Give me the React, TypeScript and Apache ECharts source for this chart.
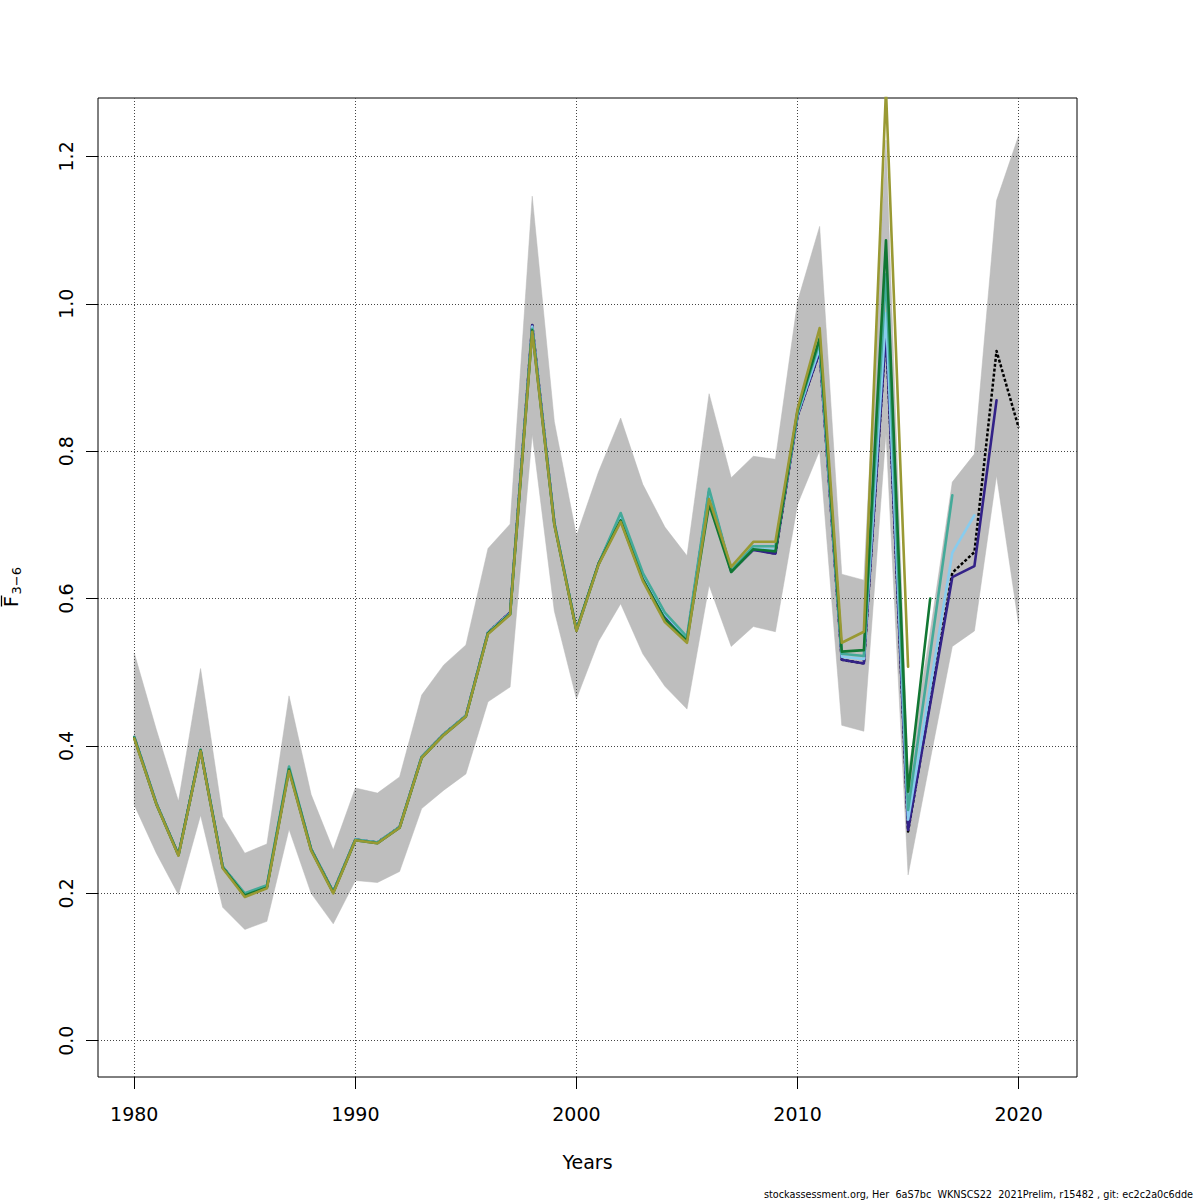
import React, { useEffect, useRef } from "react";
import * as echarts from "echarts";

const years = [
  1980, 1981, 1982, 1983, 1984, 1985, 1986, 1987, 1988, 1989,
  1990, 1991, 1992, 1993, 1994, 1995, 1996, 1997, 1998, 1999,
  2000, 2001, 2002, 2003, 2004, 2005, 2006, 2007, 2008, 2009,
  2010, 2011, 2012, 2013, 2014, 2015, 2016, 2017, 2018, 2019, 2020,
];

// Confidence band of the base run
const bandUpper = [
  0.526, 0.422, 0.325, 0.505, 0.304, 0.2545, 0.267, 0.468, 0.334, 0.259,
  0.343, 0.336, 0.358, 0.469, 0.51, 0.537, 0.668, 0.701, 1.146, 0.84,
  0.685, 0.772, 0.845, 0.755, 0.697, 0.658, 0.878, 0.764, 0.793, 0.789,
  1.003, 1.105, 0.633, 0.625, 1.222, 0.364, 0.555, 0.758, 0.796, 1.14, 1.228,
];
const bandLower = [
  0.32, 0.2545, 0.198, 0.306, 0.181, 0.151, 0.162, 0.287, 0.2, 0.1586,
  0.2174, 0.2147, 0.2296, 0.315, 0.34, 0.362, 0.46, 0.48, 0.823, 0.583,
  0.464, 0.542, 0.593, 0.525, 0.481, 0.45, 0.618, 0.535, 0.562, 0.555,
  0.728, 0.801, 0.428, 0.42, 0.825, 0.225, 0.381, 0.535, 0.556, 0.767, 0.565,
];

// Base run (1980-2020)
const baseRun = [
  0.412, 0.322, 0.252, 0.394, 0.236, 0.198, 0.209, 0.369, 0.26, 0.202,
  0.273, 0.269, 0.29, 0.385, 0.416, 0.441, 0.554, 0.581, 0.971, 0.703,
  0.557, 0.647, 0.712, 0.632, 0.577, 0.545, 0.745, 0.637, 0.667, 0.661,
  0.848, 0.935, 0.517, 0.512, 0.962, 0.284, 0.46, 0.635, 0.663, 0.936, 0.832,
];
// Retrospective peels
const peel1 = [
  0.412, 0.322, 0.252, 0.394, 0.236, 0.198, 0.209, 0.369, 0.26, 0.202,
  0.273, 0.269, 0.29, 0.385, 0.416, 0.441, 0.554, 0.581, 0.971, 0.703,
  0.557, 0.647, 0.712, 0.632, 0.577, 0.545, 0.745, 0.637, 0.666, 0.661,
  0.848, 0.935, 0.517, 0.512, 0.964, 0.286, 0.457, 0.629, 0.644, 0.869,
];
const peel2 = [
  0.412, 0.322, 0.252, 0.394, 0.236, 0.198, 0.209, 0.369, 0.26, 0.202,
  0.273, 0.269, 0.29, 0.385, 0.416, 0.441, 0.554, 0.58, 0.969, 0.703,
  0.557, 0.647, 0.713, 0.633, 0.579, 0.546, 0.746, 0.637, 0.668, 0.666,
  0.85, 0.94, 0.521, 0.518, 0.987, 0.3, 0.48, 0.662, 0.713,
];
const peel3 = [
  0.412, 0.322, 0.252, 0.395, 0.236, 0.2, 0.211, 0.372, 0.26, 0.202,
  0.273, 0.269, 0.29, 0.385, 0.416, 0.441, 0.553, 0.579, 0.966, 0.702,
  0.557, 0.647, 0.716, 0.635, 0.581, 0.548, 0.749, 0.638, 0.671, 0.671,
  0.852, 0.948, 0.525, 0.522, 1.04, 0.313, 0.525, 0.74,
];
const peel4 = [
  0.411, 0.321, 0.252, 0.394, 0.235, 0.197, 0.208, 0.368, 0.259, 0.201,
  0.272, 0.268, 0.289, 0.384, 0.415, 0.44, 0.553, 0.579, 0.964, 0.701,
  0.557, 0.647, 0.706, 0.626, 0.572, 0.543, 0.728, 0.636, 0.667, 0.664,
  0.855, 0.953, 0.528, 0.53, 1.086, 0.338, 0.6,
];
const peel5 = [
  0.41, 0.321, 0.251, 0.393, 0.234, 0.195, 0.207, 0.366, 0.258, 0.2,
  0.272, 0.268, 0.289, 0.384, 0.415, 0.44, 0.552, 0.578, 0.962, 0.7,
  0.556, 0.646, 0.704, 0.624, 0.568, 0.54, 0.735, 0.643, 0.677, 0.677,
  0.857, 0.967, 0.54, 0.555, 1.29, 0.5075,
];

const peelColors = ["#332288", "#88CCEE", "#44AA99", "#117733", "#999933"];
const xTicks = [1980, 1990, 2000, 2010, 2020];
const yTicks = [0, 0.2, 0.4, 0.6, 0.8, 1.0, 1.2];
const xLabel = "Years";
const footer =
  "stockassessment.org, Her  6aS7bc  WKNSCS22  2021Prelim, r15482 , git: ec2c2a0c6dde";

const FONT = "DejaVu Sans";

function pairs(vals: number[]) {
  return vals.map((v, i) => [years[i], v]);
}

export default function App() {
  const ref = useRef<HTMLDivElement>(null);
  useEffect(() => {
    if (!ref.current) return;
    const chart = echarts.init(ref.current, null, { renderer: "svg" });
    const peels = [peel1, peel2, peel3, peel4, peel5];
    const option: any = {
      animation: false,
      backgroundColor: "#fff",
      textStyle: { fontFamily: FONT },
      grid: {
        left: 98,
        top: 98,
        right: 123,
        bottom: 123,
        show: true,
        borderColor: "#000",
        borderWidth: 1,
        backgroundColor: "transparent",
      },
      xAxis: {
        type: "value",
        min: 1978.36,
        max: 2022.64,
        axisLine: { show: false, onZero: false },
        splitLine: { show: false },
        axisTick: {
          show: true,
          length: 12,
          inside: false,
          customValues: xTicks,
          lineStyle: { color: "#000", width: 1 },
        },
        axisLabel: {
          customValues: xTicks,
          margin: 27,
          fontSize: 19,
          color: "#000",
          fontFamily: FONT,
          formatter: (v: number) => String(Math.round(v)),
        },
        name: xLabel,
        nameLocation: "middle",
        nameGap: 75,
        nameTextStyle: { fontSize: 19, color: "#000", fontFamily: FONT },
      },
      yAxis: {
        type: "value",
        min: -0.0492,
        max: 1.2792,
        axisLine: { show: false, onZero: false },
        splitLine: { show: false },
        axisTick: {
          show: true,
          length: 12,
          inside: false,
          customValues: yTicks,
          lineStyle: { color: "#000", width: 1 },
        },
        axisLabel: {
          customValues: yTicks,
          rotate: 90,
          margin: 23,
          fontSize: 19,
          color: "#000",
          fontFamily: FONT,
          formatter: (v: number) => v.toFixed(1),
        },
      },
      graphic: [
        {
          type: "group",
          x: 11,
          y: 607,
          rotation: Math.PI / 2,
          children: [
            {
              type: "text",
              x: 0,
              y: 0,
              style: {
                text: "F",
                fontSize: 19,
                fontFamily: FONT,
                fill: "#000",
                align: "left",
                verticalAlign: "middle",
              },
            },
            {
              type: "line",
              shape: { x1: 0.5, y1: -9.5, x2: 11.5, y2: -9.5 },
              style: { stroke: "#000", lineWidth: 1.3 },
            },
            {
              type: "text",
              x: 12.5,
              y: 5.5,
              style: {
                text: "3\u22126",
                fontSize: 13,
                fontFamily: FONT,
                fill: "#000",
                align: "left",
                verticalAlign: "middle",
              },
            },
          ],
        },
        {
          type: "text",
          right: 7,
          top: 1189,
          style: {
            text: footer,
            fontSize: 9.7,
            fontFamily: FONT,
            fill: "#000",
          },
        },
      ],
      series: [
        {
          type: "custom",
          coordinateSystem: "cartesian2d",
          clip: false,
          silent: true,
          z: 1,
          data: [[years[0], bandLower[0]]],
          renderItem: (params: any, api: any) => {
            const pts: number[][] = [];
            for (let i = 0; i < years.length; i++) {
              pts.push(api.coord([years[i], bandUpper[i]]));
            }
            for (let i = years.length - 1; i >= 0; i--) {
              pts.push(api.coord([years[i], bandLower[i]]));
            }
            return {
              type: "polygon",
              shape: { points: pts },
              style: { fill: "#BEBEBE", stroke: "#B8B8B8", lineWidth: 0.5 },
            };
          },
        },
        {
          type: "line",
          z: 2,
          silent: true,
          data: [[years[0], bandLower[0]]],
          symbol: "none",
          lineStyle: { opacity: 0 },
          markLine: {
            silent: true,
            symbol: ["none", "none"],
            label: { show: false },
            lineStyle: { color: "#444", type: [1, 2], width: 1 },
            emphasis: { disabled: true },
            data: [
              ...xTicks.map((x) => ({ xAxis: x })),
              ...yTicks.map((y) => ({ yAxis: y })),
            ],
          },
        },
        {
          type: "line",
          z: 3,
          data: pairs(baseRun),
          symbol: "none",
          clip: true,
          lineStyle: { color: "#000", width: 2.5, type: [3, 2], join: "round" },
        },
        ...peels.map((p, k) => ({
          type: "line",
          z: 4 + k,
          data: pairs(p),
          symbol: "none",
          clip: true,
          lineStyle: { color: peelColors[k], width: 2.6, join: "round", cap: "round" },
        })),
      ],
    };
    chart.setOption(option);
    return () => chart.dispose();
  }, []);
  return (
    <div
      ref={ref}
      style={{ position: "fixed", left: 0, top: 0, width: 1200, height: 1200 }}
    />
  );
}
